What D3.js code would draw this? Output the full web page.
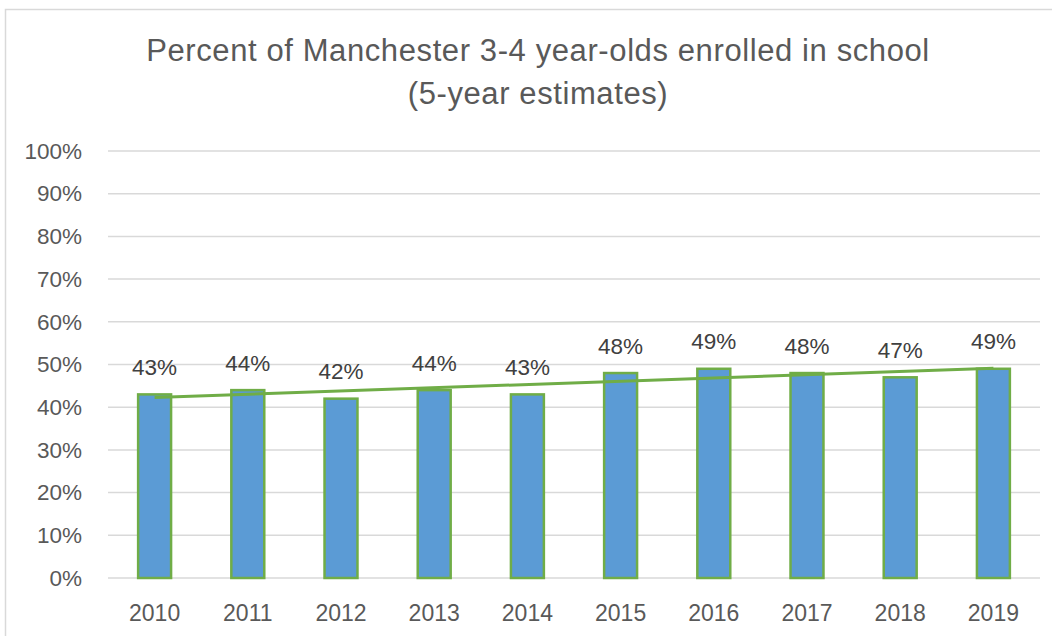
<!DOCTYPE html>
<html><head><meta charset="utf-8">
<script src="https://cdn.jsdelivr.net/npm/d3@7"></script>
<style>body{margin:0;background:#fff}svg{display:block}text{font-family:"Liberation Sans",Arial,sans-serif}</style>
</head><body><svg id="c" width="1052" height="636"></svg>
<script>
const years = ["2010","2011","2012","2013","2014","2015","2016","2017","2018","2019"];
const pct = [43,44,42,44,43,48,49,48,47,49];
const yTicks = [0,10,20,30,40,50,60,70,80,90,100];
const titleLines = ["Percent of Manchester 3-4 year-olds enrolled in school","(5-year estimates)"];

(function(){
const svg = d3.select("#c");
const pL=108,pR=1040,pT=151,pB=578;
const x = d3.scaleBand().domain(years).range([pL,pR]).paddingInner(0.625).paddingOuter(0.3125);
const y = d3.scaleLinear().domain([0,100]).range([pB,pT]);

// chart border
svg.append("path").attr("d","M5.5,636 L5.5,9.5 L1052,9.5").attr("fill","none").attr("stroke","#d9d9d9").attr("stroke-width",1.5);

// title
svg.selectAll("text.title").data(titleLines).join("text").attr("class","title")
  .attr("x",538).attr("y",(d,i)=>61+i*43).attr("text-anchor","middle")
  .attr("font-size",31).attr("letter-spacing",0.6).attr("fill","#595959").text(d=>d);

// gridlines
svg.append("g").selectAll("line").data(yTicks).join("line")
  .attr("x1",pL).attr("x2",pR).attr("y1",d=>y(d)).attr("y2",d=>y(d))
  .attr("stroke","#d9d9d9").attr("stroke-width",1.5);

// y axis labels
const ya = svg.append("g").attr("transform",`translate(${pL},0)`)
  .call(d3.axisLeft(y).tickValues(yTicks).tickFormat(d=>d+"%").tickSize(0).tickPadding(26));
ya.select(".domain").remove();
ya.selectAll("text").attr("font-size",22.5).attr("fill","#595959").attr("font-family","Liberation Sans, Arial, sans-serif");

// x axis labels
const xa = svg.append("g").attr("transform",`translate(0,${pB})`)
  .call(d3.axisBottom(x).tickSize(0).tickPadding(27));
xa.select(".domain").remove();
xa.selectAll("text").attr("font-size",23).attr("fill","#595959").attr("font-family","Liberation Sans, Arial, sans-serif");

// bars
svg.append("g").selectAll("rect").data(years).join("rect")
  .attr("x",d=>x(d)+1).attr("width",x.bandwidth()-2)
  .attr("y",(d,i)=>y(pct[i])).attr("height",(d,i)=>pB-y(pct[i]))
  .attr("fill","#5b9bd5").attr("stroke","#70ad47").attr("stroke-width",2.5);

// trendline (linear least squares over the series)
const n=pct.length, xs=d3.range(n);
const mx=d3.mean(xs), my=d3.mean(pct);
const slope=d3.sum(xs,(v,i)=>(v-mx)*(pct[i]-my))/d3.sum(xs,v=>(v-mx)*(v-mx));
const b0=my-slope*mx;
svg.append("line")
  .attr("x1",x(years[0])+x.bandwidth()/2).attr("y1",y(b0))
  .attr("x2",x(years[n-1])+x.bandwidth()/2).attr("y2",y(b0+slope*(n-1)))
  .attr("stroke","#70ad47").attr("stroke-width",3);

// data labels
svg.append("g").selectAll("text").data(years).join("text")
  .attr("x",d=>x(d)+x.bandwidth()/2).attr("y",(d,i)=>y(pct[i])-19.5)
  .attr("text-anchor","middle").attr("font-size",22.5).attr("fill","#404040")
  .text((d,i)=>pct[i]+"%");
})();
</script></body></html>
